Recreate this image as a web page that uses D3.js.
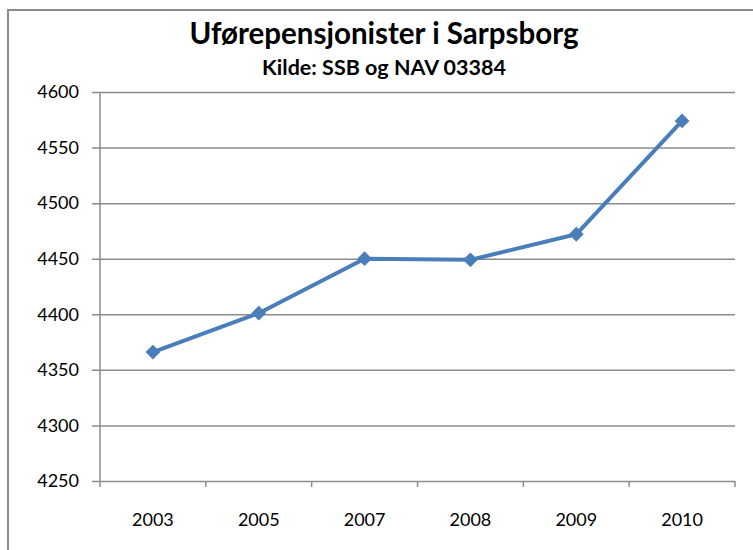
<!DOCTYPE html>
<html>
<head>
<meta charset="utf-8">
<script src="https://cdn.jsdelivr.net/npm/d3@7"></script>
<style>
  body { margin: 0; background: #fff; }
  svg text { font-family: Lato, "Open Sans", sans-serif; fill: #000; }
</style>
</head>
<body>
<div id="app"></div>
<script>
// Uførepensjonister i Sarpsborg
const years = ['2003', '2005', '2007', '2008', '2009', '2010'];
const values = [4366, 4401, 4450, 4449, 4472, 4574];
const yTicks = [4250, 4300, 4350, 4400, 4450, 4500, 4550, 4600];

const svgWidth = 753;
const svgHeight = 550;
const margin = { top: 92, bottom: 69, left: 100, right: 18 };

const svg = d3.select('#app')
  .append('svg')
  .attr('width', svgWidth)
  .attr('height', svgHeight);

// outer frame (runs off the right and bottom edge)
svg.append('rect')
  .attr('x', 8)
  .attr('y', 10)
  .attr('width', 800)
  .attr('height', 600)
  .attr('fill', 'none')
  .attr('stroke', '#8c8c8c')
  .attr('stroke-width', 2);

const xScale = d3.scaleBand()
  .domain(years)
  .range([margin.left, svgWidth - margin.right]);

const yScale = d3.scaleLinear()
  .domain([4250, 4600])
  .range([svgHeight - margin.bottom, margin.top]);

// gridlines + y axis
const yAxis = d3.axisLeft(yScale)
  .tickValues(yTicks)
  .tickSize(-(svgWidth - margin.left - margin.right))
  .tickPadding(14)
  .tickFormat(d3.format('d'));

const gy = svg.append('g')
  .attr('transform', `translate(${margin.left}, 0)`)
  .call(yAxis);
gy.select('.domain').remove();
gy.selectAll('.tick line')
  .attr('x1', -8)
  .attr('stroke', '#8c8c8c')
  .attr('stroke-width', 1.5);
gy.selectAll('.tick text')
  .attr('font-size', 18)
  .attr('x', -21);

svg.append('line')
  .attr('x1', margin.left).attr('x2', margin.left)
  .attr('y1', margin.top).attr('y2', svgHeight - margin.bottom)
  .attr('stroke', '#8c8c8c')
  .attr('stroke-width', 1.5);

// x axis
const xAxis = d3.axisBottom(xScale).tickSize(0).tickPadding(32);
const gx = svg.append('g')
  .attr('transform', `translate(0, ${svgHeight - margin.bottom})`)
  .call(xAxis);
gx.select('.domain').remove();
gx.selectAll('.tick text').attr('font-size', 18);

// category boundary ticks
const bounds = years.map(y => xScale(y)).concat([xScale(years[years.length - 1]) + xScale.bandwidth()]);
svg.append('g')
  .selectAll('line')
  .data(bounds)
  .enter()
  .append('line')
  .attr('x1', d => d).attr('x2', d => d)
  .attr('y1', svgHeight - margin.bottom)
  .attr('y2', svgHeight - margin.bottom + 6)
  .attr('stroke', '#8c8c8c')
  .attr('stroke-width', 1.5);

// line
const cx = d => xScale(d) + xScale.bandwidth() / 2;
const points = years.map((y, i) => [cx(y), yScale(values[i])]);

svg.append('path')
  .datum(points)
  .attr('d', d3.line())
  .attr('fill', 'none')
  .attr('stroke', '#4a7ebb')
  .attr('stroke-width', 4)
  .attr('stroke-linejoin', 'round');

svg.append('g')
  .selectAll('path')
  .data(points)
  .enter()
  .append('path')
  .attr('d', d3.symbol().type(d3.symbolDiamond2).size(140))
  .attr('transform', d => `translate(${d[0]}, ${d[1]})`)
  .attr('fill', '#4a7ebb');

// titles
svg.append('text')
  .attr('x', 384)
  .attr('y', 44)
  .attr('text-anchor', 'middle')
  .attr('font-size', 29.5)
  .attr('font-weight', 'bold')
  .text('Uførepensjonister i Sarpsborg');

svg.append('text')
  .attr('x', 384)
  .attr('y', 75)
  .attr('text-anchor', 'middle')
  .attr('font-size', 21.5)
  .attr('font-weight', 'bold')
  .text('Kilde: SSB og NAV 03384');
</script>
</body>
</html>
